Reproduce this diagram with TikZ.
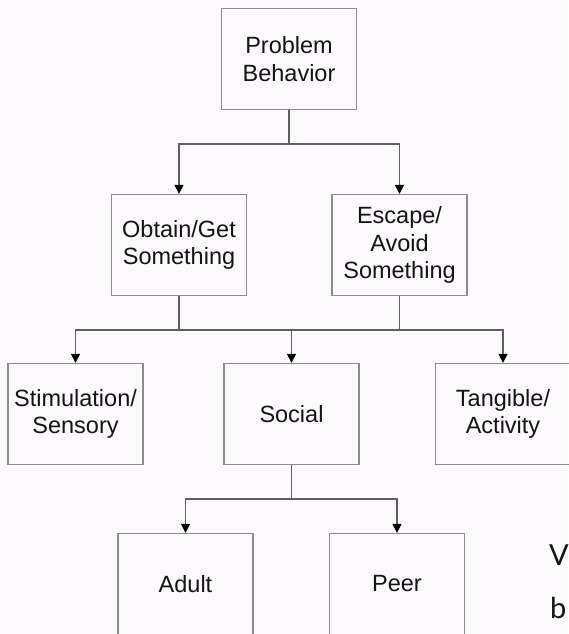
\documentclass[tikz,border=0pt]{standalone}
\usepackage{fontspec}
\setmainfont{Liberation Sans}
\newfontfamily\slidefont{Lato}
\usepackage{tikz}
\usetikzlibrary{arrows.meta}
\definecolor{bgpaper}{RGB}{252,249,252}
\definecolor{boxline}{RGB}{140,140,140}
\definecolor{linkline}{RGB}{95,95,95}
\definecolor{inktext}{RGB}{20,20,20}

\begin{document}
\begin{tikzpicture}[x=1pt,y=1pt]
\tikzstyle{box}=[draw=boxline, line width=1.3pt, minimum width=135pt, minimum height=101pt,
  inner sep=0pt, align=center, text=inktext, font=\fontsize{23.5}{27.5}\selectfont]
\tikzstyle{link}=[draw=linkline, line width=1.1pt]
\tikzstyle{linkarrow}=[link, -{Triangle[length=9pt,width=9pt,fill=black,color=black]}]
\fill [bgpaper] (0,0) rectangle (568,-634);
\useasboundingbox (0,0) rectangle (568,-634);
% boxes
\node [box] (pb) at (289,-59) {Problem\\Behavior};
\node [box] (obt) at (179,-245) {Obtain/Get\\Something};
\node [box] (esc) at (399.5,-245) {Escape/\\Avoid\\Something};
\node [box] (stim) at (75.5,-414) {Stimulation/\\Sensory};
\node [box] (soc) at (291.5,-414) {Social};
\node [box] (tang) at (503,-414) {Tangible/\\Activity};
\node [box] (adult) at (185.5,-584) {Adult};
\node [box] (peer) at (397,-584) {Peer};
% junctions
\coordinate (j1) at (289,-144);
\coordinate (j2) at (179,-330);
\coordinate (j3) at (399.5,-330);
\coordinate (j4) at (291.5,-499);
% connectors
\draw [link] (pb) -- (j1);
\draw [linkarrow] (j1) -| (obt.north);
\draw [linkarrow] (j1) -| (esc.north);
\draw [link] (obt) -- (j2);
\draw [link] (esc) -- (j3);
\draw [link] (j2) -- (j3);
\draw [linkarrow] (j2) -| (stim.north);
\draw [linkarrow] (j2) -| (soc.north);
\draw [linkarrow] (j3) -| (tang.north);
\draw [link] (soc) -- (j4);
\draw [linkarrow] (j4) -| (adult.north);
\draw [linkarrow] (j4) -| (peer.north);
% slide text at the right edge
\node [anchor=base west, inner sep=0pt, text=inktext, font=\slidefont\fontsize{29}{35}\selectfont] (vtext) at (549,-565) {V};
\node [anchor=base west, inner sep=0pt, text=inktext, font=\slidefont\fontsize{29}{35}\selectfont] (btext) at (550,-618) {b};
\end{tikzpicture}
\end{document}
